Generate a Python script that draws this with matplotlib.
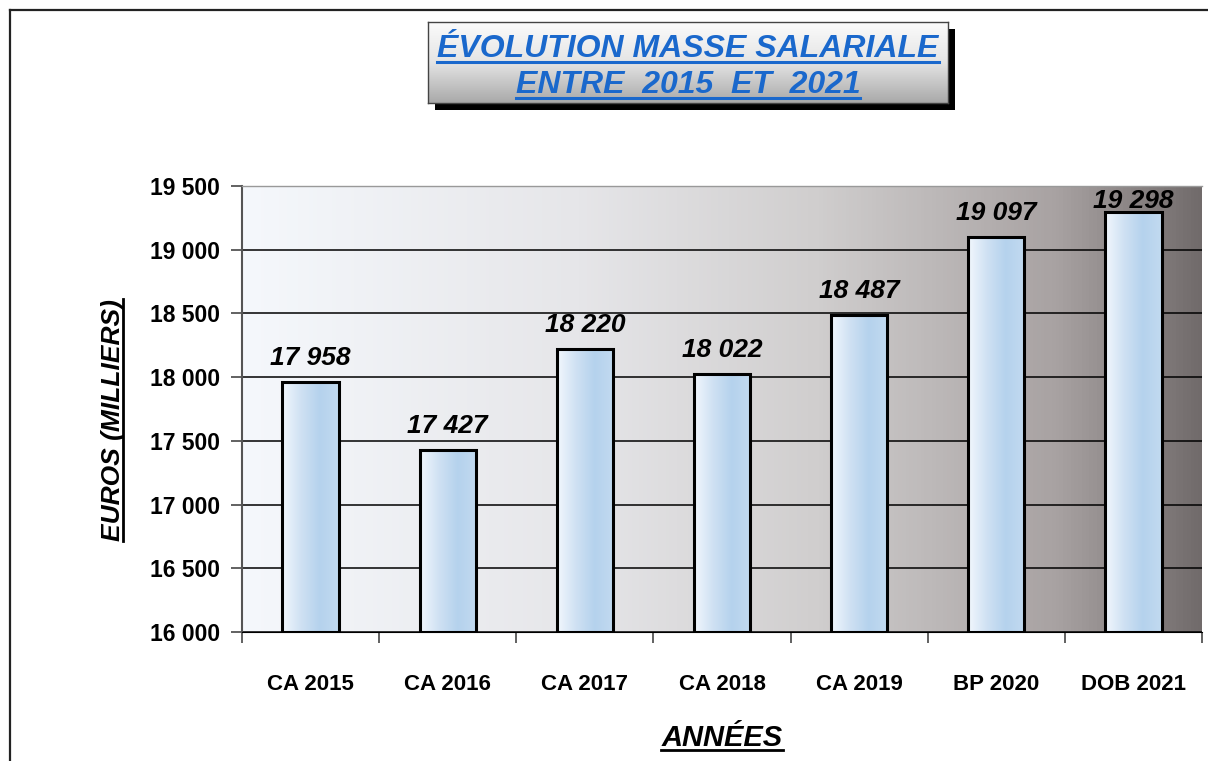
import matplotlib
matplotlib.use('Agg')
import matplotlib.pyplot as plt
import numpy as np
from matplotlib.colors import LinearSegmentedColormap
from matplotlib.lines import Line2D
from matplotlib.patches import Rectangle
from matplotlib.ticker import MultipleLocator, FuncFormatter

plt.rcParams['font.family'] = ['Liberation Sans', 'DejaVu Sans']
plt.rcParams['font.weight'] = 'bold'

# Données
categories = ['CA 2015', 'CA 2016', 'CA 2017', 'CA 2018', 'CA 2019', 'BP 2020', 'DOB 2021']
valeurs = [17958, 17427, 18220, 18022, 18487, 19097, 19298]
y_min, y_max, y_pas = 16000, 19500, 500

titre_1 = 'ÉVOLUTION MASSE SALARIALE'
titre_2 = 'ENTRE  2015  ET  2021'
label_y = 'EUROS (MILLIERS)'
label_x = 'ANNÉES'

def fmt(v):
    return f'{int(round(v)):,}'.replace(',', ' ')

W, H = 1208, 761
fig = plt.figure(figsize=(W / 100, H / 100), dpi=100)
ax = fig.add_axes([242 / W, 1 - 632 / H, 960 / W, 446 / H])

x = np.arange(len(categories))
ax.set_xlim(-0.5, len(categories) - 0.5)
ax.set_ylim(y_min, y_max)

# Fond dégradé du graphique
fond = LinearSegmentedColormap.from_list('fond', [(0, '#f5f8fc'), (0.35, '#e6e6e9'),
                                                  (0.6, '#d0cece'), (0.85, '#a8a2a2'),
                                                  (1, '#716b6b')])
ax.imshow(np.linspace(0, 1, 256)[None, :], cmap=fond, aspect='auto',
          extent=[-0.5, len(categories) - 0.5, y_min, y_max], zorder=0)

ax.yaxis.grid(True, color='black', lw=1.1)
ax.set_axisbelow(True)

# Barres avec dégradé bleu
larg = 0.41
barres = ax.bar(x, np.array(valeurs) - y_min, bottom=y_min, width=larg,
                facecolor='none', edgecolor='black', lw=2.2, zorder=3)
bleu = LinearSegmentedColormap.from_list('bleu', ['#f2f7fd', '#cfe1f3', '#b5d2ed', '#c2daf0'])
for b, xi, v in zip(barres, x, valeurs):
    im = ax.imshow(np.linspace(0, 1, 128)[None, :], cmap=bleu, aspect='auto',
                   extent=[xi - larg / 2, xi + larg / 2, y_min, v], zorder=2.5)
    im.set_clip_path(b)

# Étiquettes des valeurs
for xi, v in zip(x, valeurs):
    yl = min(v + 98, y_max - 215)
    ax.text(xi, yl, fmt(v), ha='center', va='bottom', fontsize=19,
            fontweight='bold', fontstyle='italic', zorder=4)

# Axes et graduations
ax.yaxis.set_major_locator(MultipleLocator(y_pas))
ax.yaxis.set_major_formatter(FuncFormatter(lambda v, p: fmt(v)))
ax.tick_params(axis='y', direction='out', length=8, width=1.3, color='#555555',
               pad=8, labelsize=16.5)
ax.set_xticks(np.arange(-0.5, len(categories), 1))
ax.set_xticklabels([])
ax.set_xticks(x, minor=True)
ax.set_xticklabels(categories, minor=True)
ax.tick_params(axis='x', which='major', direction='out', length=8, width=1.3, color='#555555')
ax.tick_params(axis='x', which='minor', length=0, pad=30, labelsize=16)

ax.spines['left'].set_color('#555555')
ax.spines['left'].set_linewidth(1.5)
ax.spines['top'].set_color('#999999')
ax.spines['top'].set_linewidth(1)
ax.spines['right'].set_visible(False)
ax.spines['bottom'].set_color('black')

# Titres des axes
ty = fig.text(113 / W, 1 - 420 / H, label_y, rotation=90, ha='center', va='center',
              fontsize=19, fontweight='bold', fontstyle='italic')
tx = fig.text(722 / W, 1 - 738 / H, label_x, ha='center', va='center',
              fontsize=21, fontweight='bold', fontstyle='italic')

# Cadre du titre avec ombre
bx0, bx1, by0, by1 = 428, 948, 22, 103
fig.add_artist(Rectangle(((bx0 + 7) / W, 1 - (by1 + 7) / H), (bx1 - bx0) / W, (by1 - by0) / H,
                         transform=fig.transFigure, facecolor='black', edgecolor='none', zorder=1))
axt = fig.add_axes([bx0 / W, 1 - by1 / H, (bx1 - bx0) / W, (by1 - by0) / H], zorder=2)
gris = LinearSegmentedColormap.from_list('gris', ['#fbfbfb', '#e4e4e4', '#a9a9a9'])
axt.imshow(np.linspace(0, 1, 128)[:, None], cmap=gris, aspect='auto', extent=[0, 1, 0, 1])
axt.set_xticks([])
axt.set_yticks([])
for s in axt.spines.values():
    s.set_color('#444444')
    s.set_linewidth(1)

bleu_titre = '#1a68cc'
t1 = fig.text(688 / W, 1 - 49 / H, titre_1, ha='center', va='center', fontsize=23,
              fontweight='bold', fontstyle='italic', color=bleu_titre, zorder=5)
t2 = fig.text(688 / W, 1 - 85 / H, titre_2, ha='center', va='center', fontsize=23,
              fontweight='bold', fontstyle='italic', color=bleu_titre, zorder=5)

# Cadre de la page
fig.add_artist(Line2D([10 / W, 10 / W], [0, 1 - 10 / H], transform=fig.transFigure,
                      color='#222222', lw=1.6))
fig.add_artist(Line2D([10 / W, 1], [1 - 10 / H, 1 - 10 / H], transform=fig.transFigure,
                      color='#222222', lw=1.6))

# Soulignement des textes
fig.canvas.draw()
renderer = fig.canvas.get_renderer()

def souligner(t, couleur, lw, vertical=False):
    bb = t.get_window_extent(renderer)
    em = t.get_fontsize() * 100 / 72
    if vertical:
        xx = bb.x1 - 0.06 * em
        fig.add_artist(Line2D([xx / W, xx / W], [bb.y0 / H, bb.y1 / H],
                              transform=fig.transFigure, color=couleur, lw=lw, zorder=6))
    else:
        yy = bb.y0 + 0.06 * em
        fig.add_artist(Line2D([bb.x0 / W, bb.x1 / W], [yy / H, yy / H],
                              transform=fig.transFigure, color=couleur, lw=lw, zorder=6))

souligner(t1, bleu_titre, 2.2)
souligner(t2, bleu_titre, 2.2)
souligner(tx, 'black', 2.0)
souligner(ty, 'black', 2.0, vertical=True)

fig.savefig('out.png', dpi=100, facecolor='white')
